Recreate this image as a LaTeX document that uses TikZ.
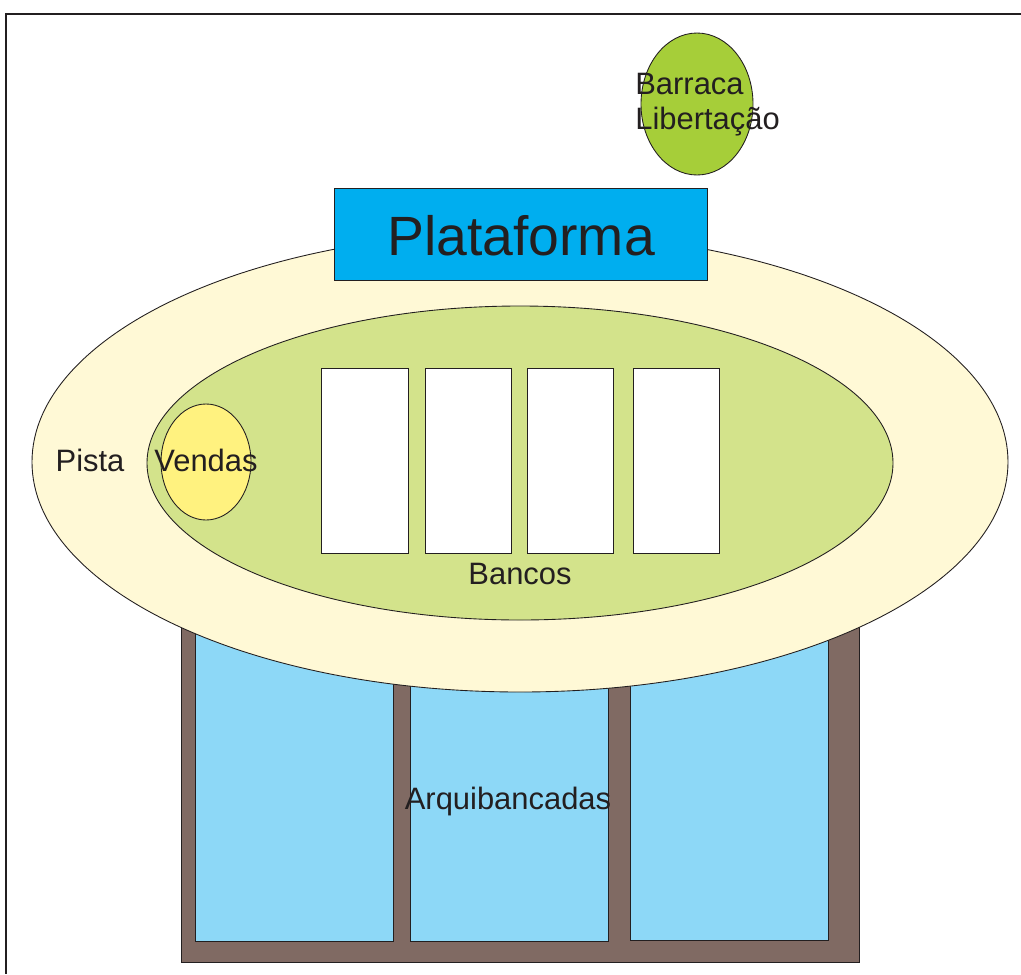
\documentclass[tikz,border=0pt]{standalone}
\usepackage{fontspec}
\setmainfont{Liberation Sans}
\definecolor{textgray}{HTML}{231F20}
\definecolor{pistacol}{HTML}{FFF9D6}
\definecolor{bancocol}{HTML}{D3E38B}
\definecolor{vendacol}{HTML}{FFF27F}
\definecolor{barracol}{HTML}{A6CE39}
\definecolor{platcol}{HTML}{00AEEF}
\definecolor{woodcol}{HTML}{806A63}
\definecolor{arqcol}{HTML}{8DD8F7}
\begin{document}
\begin{tikzpicture}[x=0.02cm,y=-0.02cm,
  outline/.style={draw=textgray,line width=0.5pt},
  label/.style={text=textgray,inner sep=0pt,font=\fontsize{17.6}{20}\selectfont}]
\useasboundingbox (0,0) rectangle (1021,974);
% moldura
\draw[textgray,line width=1pt] (1021,14) -- (6,14) -- (6,974);
% arquibancadas
\filldraw[outline,fill=woodcol] (181,600) rectangle (859,962);
\filldraw[outline,fill=arqcol] (195,600) rectangle (393,941);
\filldraw[outline,fill=arqcol] (410,600) rectangle (608,941);
\filldraw[outline,fill=arqcol] (630,600) rectangle (828,940);
% pista
\filldraw[outline,fill=pistacol] (520,462) ellipse [x radius=488,y radius=230];
\filldraw[outline,fill=bancocol] (520,463) ellipse [x radius=373,y radius=157];
\filldraw[outline,fill=vendacol] (206,462) ellipse [x radius=45,y radius=58];
% bancos
\foreach \xa/\xb in {321/408,425/511,527/613,633/719}
  \filldraw[outline,fill=white] (\xa,368) rectangle (\xb,553);
% plataforma e barraca
\filldraw[outline,fill=platcol] (334,188) rectangle (707,280);
\filldraw[outline,fill=barracol] (697,104) ellipse [x radius=56,y radius=71];
% textos
\node (plat) [label,font=\fontsize{31.5}{36}\selectfont] at (521,236) {Plataforma};
\node (barraca) [label,anchor=west,align=left] at (635,105) {Barraca\\Libertação};
\node (pista) [label] at (90,460) {Pista};
\node (vendas) [label] at (206,460) {Vendas};
\node (bancos) [label] at (520,574) {Bancos};
\node (arq) [label] at (508,801) {Arquibancadas};
\end{tikzpicture}
\end{document}
